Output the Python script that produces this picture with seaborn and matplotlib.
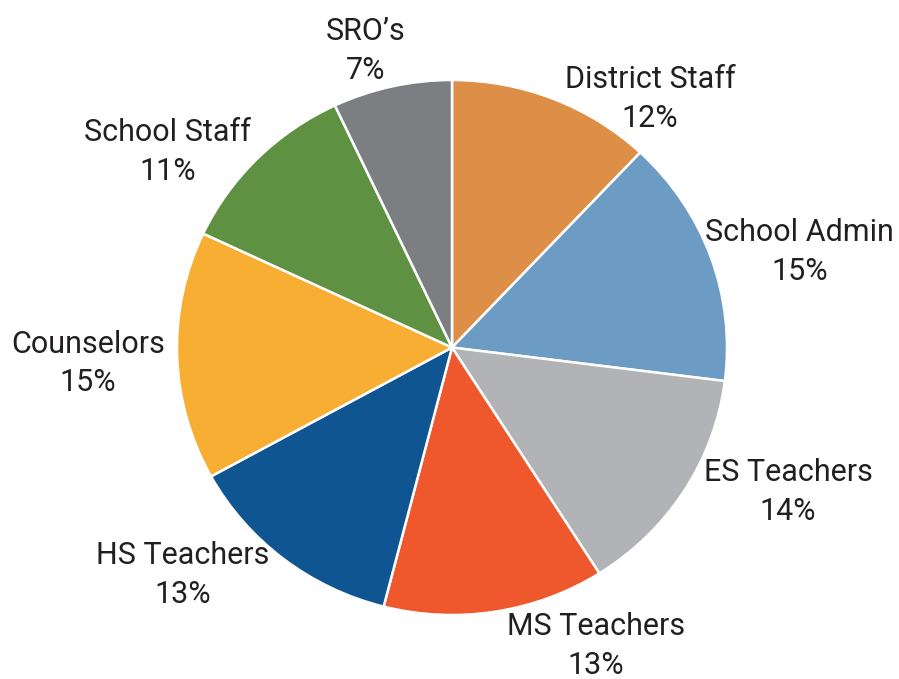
import matplotlib.pyplot as plt
import seaborn as sns

groups = ['District Staff', 'School Admin', 'ES Teachers', 'MS Teachers',
          'HS Teachers', 'Counselors', 'School Staff', 'SRO\u2019s']
shares = [12, 15, 14, 13, 13, 15, 11, 7]
colors = ['#DE8F47', '#6C9BC3', '#B1B3B6', '#EF582D',
          '#0E5591', '#F8AD33', '#5F9143', '#7D7E82']
# label centres in axis units (pie radius = 1)
label_pos = [(0.720, 0.930), (1.265, 0.358), (1.222, -0.540), (0.524, -1.117),
             (-0.978, -0.850), (-1.324, -0.060), (-1.033, 0.730), (-0.313, 1.108)]

sns.set_theme(style='white')
plt.rcParams['font.family'] = ['Roboto', 'DejaVu Sans']

fig = plt.figure(figsize=(8.99, 6.79), dpi=100)
ax = fig.add_axes([0, 0, 1, 1])
ax.pie(shares, colors=colors, startangle=90, counterclock=False,
       wedgeprops={'edgecolor': 'white', 'linewidth': 1.8})

for name, val, (x, y) in zip(groups, shares, label_pos):
    ax.text(x, y, f'{name}\n{val}%', ha='center', va='center',
            multialignment='center', fontsize=22, color='#231F20', linespacing=1.42)

# the original pie is slightly wider than tall
rx, ry = 275, 267.5
ax.set_aspect('auto')
ax.set_xlim(-452 / rx, (899 - 452) / rx)
ax.set_ylim(-(679 - 347.5) / ry, 347.5 / ry)
ax.axis('off')

fig.savefig('out.png', dpi=100, facecolor='white')
